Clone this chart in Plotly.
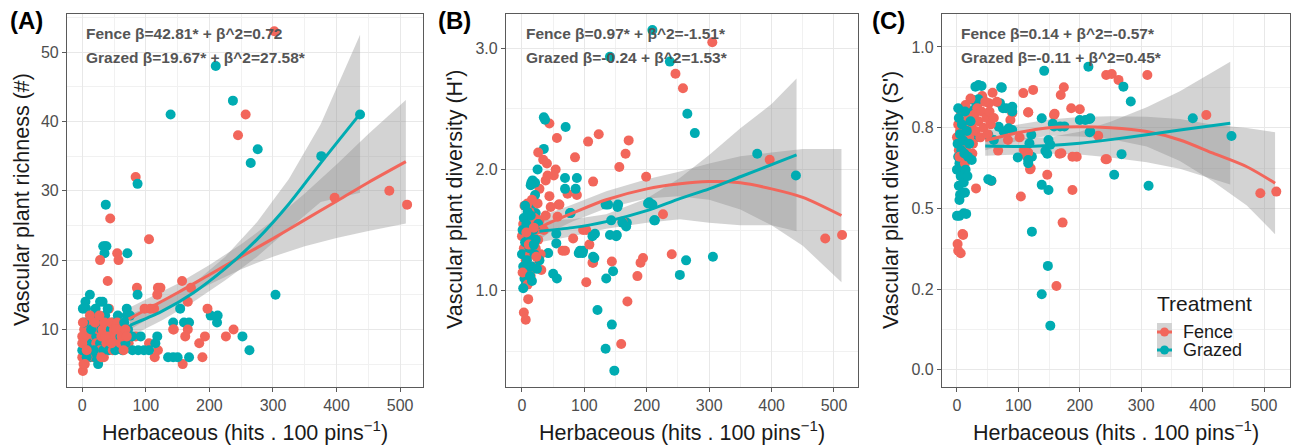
import plotly.graph_objects as go

W, H = 1293, 445
RED = '#F2665B'
TEAL = '#00ACB2'
BAND = 'rgba(140,140,140,0.38)'
FONT = 'Liberation Sans, Arial, sans-serif'

# ---------------- Panel A : richness ----------------
a_fence = [(302,53),(257,41),(245,38),(84,32),(397,29),(483,30),(511,28),(44,26),(105,23),(55,21),(57,20),(28,20),
           (40,17),(86,16),(107,13),(113,13),(119,16),(123,16),(118,15),(157,17),(171,16),(166,14),(197,13),(226,9),
           (238,10),(193,9),(189,6),(184,8),(158,5),(143,10),(166,10),(162,9),(114,6),(105,8),(119,7),(84,9),(73,8),
           (34,6),(1,4),(98,13),(42,13),(144,10),
           (0,6),(2,5),(3,7),(5,8),(5,9),(6,10),(8,11),(10,10),(10,8),(12,9),(14,7),(15,11),(17,10),(18,6),(20,9),
           (22,8),(24,11),(25,10),(28,7),(30,9),(32,10),(35,11),(38,8),(40,10),(42,9),(45,11),(48,7),(50,10),(52,9),
           (55,11),(58,10),(60,8),(62,9),(65,7),(68,10),(70,9),(3,10),(8,6),(12,12),(20,11),(27,12),(36,9),(46,8),
           (53,10),(0,9),(0,8),(1,11),(4,5),(7,7),(30,6)]
a_graze = [(210,48),(139,41),(237,43),(276,36),(265,34),(87,31),(376,35),(437,41),(37,28),(36,22),(38,22),(35,21),
           (33,22),(71,21),(87,15),(12,15),(5,14),(28,14),(21,13),(154,13),(202,12),(212,11),(213,12),(304,15),
           (252,9),(263,7),(70,13),(70,12),(143,11),(160,11),(168,11),(135,6),(143,6),(150,6),(168,6),(118,9),
           (115,8),(105,7),(97,7),(88,7),(79,7),(92,9),(54,9),(44,8),(25,5),
           (0,7),(2,8),(4,10),(6,13),(8,9),(10,7),(11,11),(13,6),(15,8),(17,12),(19,10),(20,6),(22,9),(24,7),
           (26,11),(28,8),(30,10),(33,7),(36,12),(39,9),(42,7),(45,10),(48,11),(50,8),(52,7),(56,12),(60,9),(63,7),
           (66,11),(68,8),(72,10),(75,12),(78,9),(1,13),(3,11),(7,6),(14,10),(18,7),(32,14),(40,13)]
a_fence_fit_x = [73, 150, 200, 250, 300, 350, 400, 450, 509]
a_fence_fit_y = [11.5, 15.3, 17.9, 20.5, 23.1, 25.8, 28.5, 31.2, 34.2]
a_fence_ci = [1.6, 1.3, 1.4, 1.8, 2.6, 3.8, 5.3, 7.0, 8.9]
a_graze_fit_x = [75, 125, 175, 225, 275, 325, 375, 437]
a_graze_fit_y = [10.6, 12.6, 15.3, 18.8, 23.0, 28.1, 34.0, 41.1]
a_graze_ci = [1.6, 1.3, 1.3, 1.7, 2.5, 3.6, 5.6, 11.4]

# ---------------- Panel B : Shannon H' ----------------
b_fence = [(305,3.05),(246,2.79),(258,2.67),(44,2.38),(56,2.26),(106,2.23),(123,2.29),(171,2.24),(166,2.13),
           (156,2.02),(26,2.14),(34,2.08),(40,2.05),(85,2.10),(54,2.0),(51,1.95),(38,1.91),(114,1.90),(199,1.94),
           (397,2.08),(486,1.43),(513,1.46),(240,1.30),(194,1.27),(190,1.23),(185,1.12),(169,0.91),(144,1.24),
           (159,0.56),(103,1.07),(113,1.23),(65,1.33),(31,1.17),(10,0.93),(3,0.82),(6,0.76),(98,1.50),(82,1.43),
           (59,1.71),(226,1.63),(28,1.84),(25,1.72),(44,1.78),(73,1.80),(88,1.79),(46,1.69),(60,1.71),(9,1.72),
           (57,1.61),(161,1.57),(103,1.50),(108,1.38),(69,1.33),(114,1.23),(41,1.95),
           (0,1.45),(2,1.55),(3,1.35),(5,1.6),(6,1.25),(8,1.5),(10,1.4),(12,1.65),(13,1.3),(15,1.55),(17,1.45),
           (18,1.2),(20,1.6),(22,1.35),(24,1.5),(26,1.42),(28,1.58),(1,1.15),(4,1.7),(9,1.05),(14,1.12),(16,1.75),
           (30,1.3),(35,1.5),(38,1.62),(7,1.48),(11,1.38),(19,1.52),(23,1.28)]
b_graze = [(209,3.15),(141,2.93),(237,2.89),(265,2.46),(277,2.30),(35,2.43),(37,2.41),(70,2.35),(35,2.17),(25,2.0),
           (69,1.93),(88,1.93),(15,1.89),(377,2.13),(439,1.95),(306,1.28),(263,1.25),(253,1.13),(146,1.16),
           (135,1.10),(121,0.84),(144,0.72),(134,0.52),(148,0.34),(114,1.28),(93,1.33),(98,1.33),(55,1.39),
           (42,1.31),(50,1.14),(56,1.10),(117,1.47),(141,1.46),(152,1.46),(138,1.71),(154,1.71),(168,1.56),
           (202,1.72),(213,1.58),(78,1.64),(15,1.71),(22,1.64),(17,1.91),(21,1.89),(14,1.87),(69,1.84),(86,1.84),
           (21,1.79),(134,1.71),(153,1.69),(204,1.73),(209,1.71),(77,1.64),(143,1.58),(161,1.56),(167,1.53),
           (212,1.58),(55,1.47),(113,1.45),(151,1.45),(91,1.31),(97,1.31),(116,1.27),
           (0,1.3),(1,1.5),(2,1.2),(3,1.6),(4,1.1),(5,1.4),(6,1.05),(7,1.55),(8,1.25),(10,1.15),(11,1.45),
           (12,1.35),(14,1.62),(15,1.2),(16,1.08),(18,1.5),(20,1.3),(22,1.42),(24,1.18),(26,1.55),(28,1.25),
           (2,1.02),(5,1.7),(9,1.65),(13,1.12),(19,1.38)]
b_fence_fit_x = [28, 44, 81, 135, 200, 250, 300, 350, 400, 450, 512]
b_fence_fit_y = [1.52, 1.56, 1.64, 1.75, 1.84, 1.88, 1.90, 1.89, 1.84, 1.77, 1.62]
b_fence_ci = [0.10, 0.08, 0.07, 0.07, 0.08, 0.10, 0.15, 0.22, 0.30, 0.40, 0.55]
b_graze_fit_x = [28, 81, 135, 200, 253, 300, 350, 400, 440]
b_graze_fit_y = [1.49, 1.52, 1.57, 1.66, 1.76, 1.84, 1.94, 2.04, 2.12]
b_graze_ci = [0.09, 0.07, 0.06, 0.10, 0.17, 0.28, 0.40, 0.50, 0.63]

# ---------------- Panel C : Simpson S' ----------------
c_fence = [(252,0.916),(263,0.898),(243,0.913),(310,0.913),(406,0.789),(494,0.547),(520,0.552),(244,0.652),
           (230,0.725),(200,0.807),(195,0.66),(188,0.66),(170,0.671),(158,0.789),(174,0.875),(169,0.851),
           (124,0.867),(108,0.857),(116,0.798),(186,0.81),(147,0.604),(188,0.557),(104,0.537),(113,0.663),
           (120,0.624),(10,0.418),(2,0.369),(6,0.361),(172,0.456),(162,0.26),(58,0.858),(52,0.826),(41,0.848),
           (36,0.828),(90,0.795),(87,0.774),(116,0.797),(159,0.793),(102,0.72),(83,0.712),(67,0.679),(109,0.681),
           (116,0.673),(167,0.669),(242,0.652),(119,0.621),(56,0.585),(31,0.562),(9,0.421),(1,0.39),
           (0,0.72),(2,0.76),(3,0.68),(5,0.74),(6,0.8),(8,0.71),(10,0.77),(12,0.73),(14,0.82),(15,0.69),
           (17,0.75),(19,0.78),(20,0.72),(22,0.84),(24,0.76),(26,0.7),(28,0.79),(30,0.74),(33,0.81),(35,0.77),
           (38,0.72),(40,0.8),(43,0.75),(46,0.83),(48,0.78),(50,0.73),(53,0.8),(55,0.76),(4,0.66),(13,0.64),
           (25,0.67),(60,0.78),(65,0.83)]
c_graze = [(142,0.926),(214,0.939),(271,0.877),(283,0.831),(384,0.779),(447,0.724),(312,0.570),(256,0.604),
           (268,0.668),(216,0.736),(200,0.774),(216,0.777),(168,0.754),(175,0.754),(158,0.754),(138,0.779),
           (144,0.678),(147,0.669),(138,0.573),(149,0.557),(73,0.874),(80,0.81),(75,0.81),(117,0.66),(122,0.66),
           (4,0.526),(4,0.477),(15,0.483),(122,0.428),(148,0.322),(138,0.234),(152,0.137),(35,0.882),(40,0.879),
           (30,0.877),(72,0.875),(26,0.836),(35,0.838),(30,0.81),(16,0.807),(70,0.826),(90,0.815),(90,0.8),
           (156,0.762),(209,0.774),(217,0.779),(217,0.738),(68,0.753),(84,0.748),(90,0.743),(76,0.738),(51,0.728),
           (30,0.72),(19,0.712),(60,0.712),(121,0.728),(118,0.702),(149,0.712),(152,0.697),(99,0.658),(116,0.65),
           (116,0.64),(51,0.59),(56,0.586),(3,0.57),(5,0.542),(9,0.547),(13,0.549),(11,0.485),(0,0.477),
           (0,0.62),(1,0.7),(2,0.66),(3,0.78),(4,0.64),(5,0.73),(6,0.6),(7,0.68),(8,0.76),(9,0.63),(10,0.71),
           (12,0.67),(13,0.8),(14,0.62),(16,0.74),(18,0.66),(20,0.7),(22,0.77),(24,0.65),(2,0.81),(11,0.58),(17,0.6)]
c_fence_fit_x = [46, 100, 150, 200, 250, 309, 363, 417, 472, 518]
c_fence_fit_y = [0.710, 0.735, 0.750, 0.753, 0.750, 0.738, 0.712, 0.671, 0.629, 0.578]
c_fence_ci = [0.030, 0.025, 0.025, 0.030, 0.035, 0.046, 0.065, 0.088, 0.120, 0.158]
c_graze_fit_x = [46, 100, 150, 200, 250, 309, 363, 445]
c_graze_fit_y = [0.693, 0.692, 0.695, 0.702, 0.713, 0.728, 0.743, 0.764]
c_graze_ci = [0.030, 0.025, 0.025, 0.035, 0.055, 0.085, 0.120, 0.190]

# ---------------- text ----------------
panel_labels = ['(A)', '(B)', '(C)']
y_titles = ['Vascular plant richness (#)', "Vascular plant diversity (H')", "Vascular plant diversity (S')"]
x_title = 'Herbaceous (hits . 100 pins<sup>−1</sup>)'
stats = [('Fence β=42.81* + β^2=0.72', 'Grazed β=19.67* + β^2=27.58*'),
         ('Fence β=0.97* + β^2=-1.51*', 'Grazed β=-0.24 + β^2=1.53*'),
         ('Fence β=0.14 + β^2=-0.57*', 'Grazed β=-0.11 + β^2=0.45*')]
x_ticks = [0, 100, 200, 300, 400, 500]
x_minor = [50, 150, 250, 350, 450]
a_yticks = [10, 20, 30, 40, 50]
a_yminor = [5, 15, 25, 35, 45, 55]
b_yticks = [1.0, 2.0, 3.0]
b_ytext = ['1.0', '2.0', '3.0']
b_yminor = [0.5, 1.5, 2.5]
c_yticks = [0.0, 0.25, 0.5, 0.75, 1.0]
c_ytext = ['0.0', '0.2', '0.5', '0.8', '1.0']
c_yminor = [0.125, 0.375, 0.625, 0.875]
legend_title = 'Treatment'
legend_items = ['Fence', 'Grazed']

def pxx(x):
    return x / W

def pyy(y):
    return 1 - y / H

def interleave(f, g):
    """Mix the two groups in drawing order (as plotted in row order)."""
    xs, ys, cs = [], [], []
    for k in range(max(len(f), len(g))):
        for pts, col in ((g, TEAL), (f, RED)):
            if k < len(pts):
                xs.append(pts[k][0]); ys.append(pts[k][1]); cs.append(col)
    return xs, ys, cs

fig = go.Figure()

panels = [
    dict(f=a_fence, g=a_graze, ff=(a_fence_fit_x, a_fence_fit_y, a_fence_ci), gf=(a_graze_fit_x, a_graze_fit_y, a_graze_ci),
         xr=[-24, 536], yr=[1.7, 55.5], yt=a_yticks, ytt=[str(v) for v in a_yticks], ym=a_yminor,
         dom=[67, 423], lab_x=8, ytitle_x=22, stat_x=84),
    dict(f=b_fence, g=b_graze, ff=(b_fence_fit_x, b_fence_fit_y, b_fence_ci), gf=(b_graze_fit_x, b_graze_fit_y, b_graze_ci),
         xr=[-25.6, 538.5], yr=[0.205, 3.283], yt=b_yticks, ytt=b_ytext, ym=b_yminor,
         dom=[506, 858], lab_x=436, ytitle_x=455, stat_x=524),
    dict(f=c_fence, g=c_graze, ff=(c_fence_fit_x, c_fence_fit_y, c_fence_ci), gf=(c_graze_fit_x, c_graze_fit_y, c_graze_ci),
         xr=[-24.4, 542.3], yr=[-0.053, 1.102], yt=c_yticks, ytt=c_ytext, ym=c_yminor,
         dom=[942, 1290], lab_x=870, ytitle_x=891, stat_x=959),
]

annotations = []
ydom = [pyy(387), pyy(14)]

for i, p in enumerate(panels):
    n = '' if i == 0 else str(i + 1)
    xa, ya = 'x' + n, 'y' + n
    # confidence bands
    for fx, fy, ci in (p['ff'], p['gf']):
        lo = [a - c for a, c in zip(fy, ci)]
        hi = [a + c for a, c in zip(fy, ci)]
        fig.add_trace(go.Scatter(x=list(fx) + list(fx)[::-1], y=hi + lo[::-1], fill='toself',
                                 fillcolor=BAND, line=dict(width=0), mode='lines',
                                 hoverinfo='skip', showlegend=False, xaxis=xa, yaxis=ya))
    # points
    xs, ys, cs = interleave(p['f'], p['g'])
    fig.add_trace(go.Scatter(x=xs, y=ys, mode='markers',
                             marker=dict(size=10, color=cs, line=dict(width=0)),
                             showlegend=False, xaxis=xa, yaxis=ya))
    # fitted lines
    for (fx, fy, ci), col in ((p['ff'], RED), (p['gf'], TEAL)):
        fig.add_trace(go.Scatter(x=fx, y=fy, mode='lines', line=dict(color=col, width=3, shape='spline', smoothing=0.8),
                                 showlegend=False, xaxis=xa, yaxis=ya))

    axis_common = dict(showline=True, mirror=True, linecolor='#5A5A5A', linewidth=1.2,
                       ticks='outside', ticklen=4, tickcolor='#5A5A5A', tickwidth=1,
                       showgrid=True, gridcolor='#E8E8E8', gridwidth=1.1, zeroline=False,
                       tickfont=dict(family=FONT, size=16, color='#4D4D4D'))
    fig.update_layout(**{
        ('xaxis' + n): dict(axis_common, domain=[pxx(p['dom'][0]), pxx(p['dom'][1])], range=p['xr'],
                            anchor=ya, tickmode='array', tickvals=x_ticks,
                            minor=dict(tickvals=x_minor, showgrid=True, gridcolor='#F1F1F1', gridwidth=0.7, ticks='')),
        ('yaxis' + n): dict(axis_common, domain=ydom, range=p['yr'], anchor=xa, tickmode='array',
                            tickvals=p['yt'], ticktext=p['ytt'],
                            minor=dict(tickvals=p['ym'], showgrid=True, gridcolor='#F1F1F1', gridwidth=0.7, ticks='')),
    })

    cx = (p['dom'][0] + p['dom'][1]) / 2
    annotations.append(dict(text=x_title, x=pxx(cx), y=pyy(431), xref='paper', yref='paper',
                            showarrow=False, xanchor='center', yanchor='middle',
                            font=dict(family=FONT, size=21.5, color='#1A1A1A')))
    annotations.append(dict(text=y_titles[i], x=pxx(p['ytitle_x']), y=pyy(200), xref='paper', yref='paper',
                            showarrow=False, textangle=-90, xanchor='center', yanchor='middle',
                            font=dict(family=FONT, size=21.5, color='#1A1A1A')))
    annotations.append(dict(text='<b>' + panel_labels[i] + '</b>', x=pxx(p['lab_x']), y=pyy(21), xref='paper',
                            yref='paper', showarrow=False, xanchor='left', yanchor='middle',
                            font=dict(family=FONT, size=24, color='#000000')))
    for k, s in enumerate(stats[i]):
        annotations.append(dict(text='<b>' + s + '</b>', x=pxx(p['stat_x']), y=pyy(34 + 23 * k), xref='paper',
                                yref='paper', showarrow=False, xanchor='left', yanchor='middle',
                                font=dict(family=FONT, size=15.5, color='#555555')))

# legend (drawn inside panel C)
shapes = [dict(type='rect', xref='paper', yref='paper', x0=pxx(1157), x1=pxx(1172), y0=pyy(357), y1=pyy(323),
               fillcolor='#D3D3D3', line=dict(width=0), layer='above')]
for k, col in enumerate([RED, TEAL]):
    yc = 332 + 18 * k
    shapes.append(dict(type='line', xref='paper', yref='paper', x0=pxx(1157), x1=pxx(1172), y0=pyy(yc), y1=pyy(yc),
                       line=dict(color=col, width=3), layer='above'))
    shapes.append(dict(type='circle', xref='paper', yref='paper', x0=pxx(1160), x1=pxx(1169),
                       y0=pyy(yc + 4.5), y1=pyy(yc - 4.5), fillcolor=col, line=dict(width=0), layer='above'))
    annotations.append(dict(text=legend_items[k], x=pxx(1181), y=pyy(yc), xref='paper', yref='paper',
                            showarrow=False, xanchor='left', yanchor='middle',
                            font=dict(family=FONT, size=18, color='#1A1A1A')))
annotations.append(dict(text=legend_title, x=pxx(1155), y=pyy(303), xref='paper', yref='paper',
                        showarrow=False, xanchor='left', yanchor='middle',
                        font=dict(family=FONT, size=21, color='#1A1A1A')))

fig.update_layout(width=W, height=H, margin=dict(l=0, r=0, t=0, b=0),
                  paper_bgcolor='white', plot_bgcolor='white', showlegend=False,
                  annotations=annotations, shapes=shapes, font=dict(family=FONT))

fig.write_html('out.html')
